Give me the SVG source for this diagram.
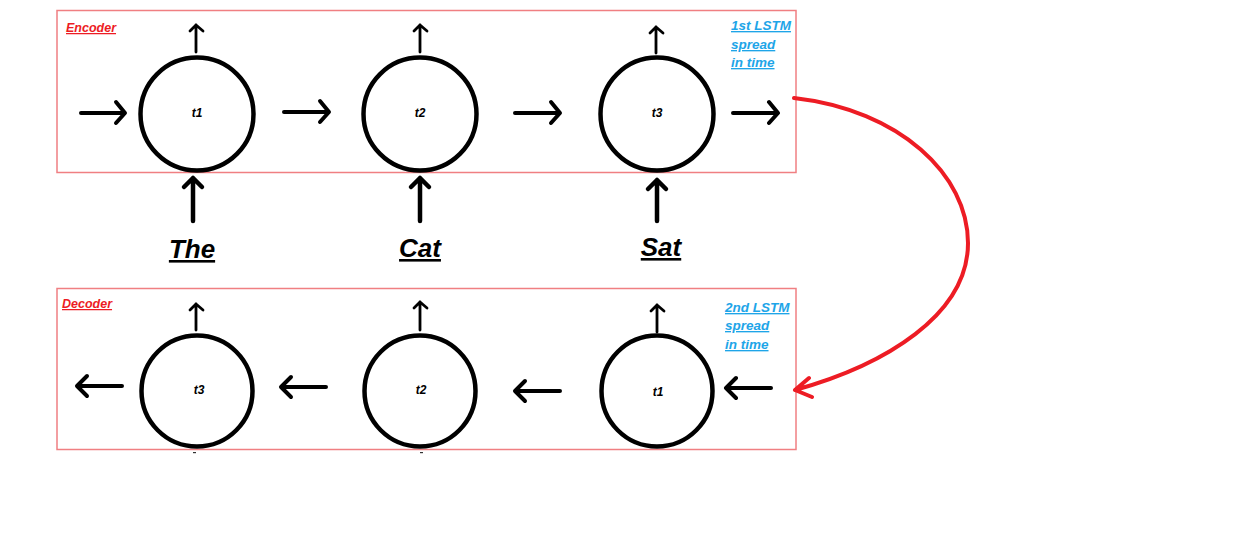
<svg xmlns="http://www.w3.org/2000/svg" width="1240" height="538" viewBox="0 0 1240 538">
<style>
.box{fill:none;stroke:#f07f82;stroke-width:1.5}
.cell{fill:none;stroke:#000;stroke-width:4.5}
.tl{font-family:"Liberation Sans",Arial,sans-serif;font-weight:bold;font-style:italic;font-size:12px;fill:#000;text-anchor:middle}
.w{font-family:"Liberation Sans",Arial,sans-serif;font-weight:bold;font-style:italic;font-size:26px;fill:#000;text-anchor:middle;text-decoration:underline}
.red{font-family:"Liberation Sans",Arial,sans-serif;font-weight:bold;font-style:italic;font-size:12.5px;fill:#ed1c24;text-decoration:underline}
.blue{font-family:"Liberation Sans",Arial,sans-serif;font-weight:bold;font-style:italic;font-size:13.5px;fill:#1ea5e8;text-decoration:underline}
.h{fill:none;stroke:#000;stroke-width:4;stroke-linecap:round;stroke-linejoin:round}
.up{fill:none;stroke:#000;stroke-width:2.8;stroke-linecap:round;stroke-linejoin:round}
.in{fill:none;stroke:#000;stroke-width:4.5;stroke-linecap:round;stroke-linejoin:round}
.rc{fill:none;stroke:#ed1c24;stroke-width:4;stroke-linecap:round;stroke-linejoin:round}
</style>
<rect width="1240" height="538" fill="#fff"/>
<g id="encoder">
<rect class="box" x="57" y="10.5" width="739" height="162"/>
<text class="red" x="66" y="32">Encoder</text>
<text class="blue" x="731" y="30">1st LSTM</text>
<text class="blue" x="731" y="49">spread</text>
<text class="blue" x="731" y="67">in time</text>
</g>
<g id="decoder">
<rect class="box" x="57" y="288.5" width="739" height="161"/>
<text class="red" x="62" y="308">Decoder</text>
<text class="blue" x="725" y="312">2nd LSTM</text>
<text class="blue" x="725" y="330">spread</text>
<text class="blue" x="725" y="349">in time</text>
</g>
<g id="enc-t1"><circle class="cell" cx="197" cy="114" r="56.5"/><text class="tl" x="197" y="117">t1</text></g>
<g id="enc-t2"><circle class="cell" cx="420" cy="114" r="56.5"/><text class="tl" x="420" y="117">t2</text></g>
<g id="enc-t3"><circle class="cell" cx="657" cy="114" r="56.5"/><text class="tl" x="657" y="117">t3</text></g>
<g id="dec-t3"><circle class="cell" cx="197" cy="391" r="55.5"/><text class="tl" x="199" y="394">t3</text></g>
<g id="dec-t2"><circle class="cell" cx="420" cy="391" r="55.5"/><text class="tl" x="421" y="394">t2</text></g>
<g id="dec-t1"><circle class="cell" cx="657" cy="391" r="55.5"/><text class="tl" x="658" y="396">t1</text></g>
<g id="word-the"><text class="w" x="192" y="258">The</text></g>
<g id="word-cat"><text class="w" x="420" y="257">Cat</text></g>
<g id="word-sat"><text class="w" x="661" y="256">Sat</text></g>
<g id="connectors">
<path class="h" d="M81,113 H124 M116,102 L125,113 L116,123"/>
<path class="h" d="M284,112 H328 M320,101 L329,112 L320,122"/>
<path class="h" d="M515,113 H559 M551,102 L560,113 L551,123"/>
<path class="h" d="M733,113 H777 M769,102 L778,113 L769,123"/>
<path class="up" d="M196,52 V25 M190,31 L196,25 L203,31"/>
<path class="up" d="M420,52 V25 M414,31 L420,25 L427,31"/>
<path class="up" d="M656,53 V27 M650,33 L656,27 L663,33"/>
<path class="in" d="M193,221 V178 M184,187 L193,178 L202,187"/>
<path class="in" d="M420,221 V178 M411,187 L420,178 L429,187"/>
<path class="in" d="M657,221 V180 M648,189 L657,180 L666,189"/>
<path class="h" d="M122,386 H78 M87,376 L77,386 L87,396"/>
<path class="h" d="M326,387 H282 M291,377 L281,387 L291,397"/>
<path class="h" d="M560,391 H516 M525,381 L515,391 L525,401"/>
<path class="h" d="M771,388 H727 M736,378 L726,388 L736,398"/>
<path class="up" d="M196,330 V304 M190,310 L196,304 L203,310"/>
<path class="up" d="M420,330 V302 M414,308 L420,302 L427,308"/>
<path class="up" d="M657,332 V305 M651,311 L657,305 L664,311"/>
<path class="rc" d="M794,98 C900,110 968,175 968,243 C968,315 885,365 795,390 M809,378 L795,390 L812,397"/>
<rect x="193" y="452" width="3" height="1.2" fill="#333"/>
<rect x="420" y="452" width="3" height="1.2" fill="#333"/>
</g>
</svg>
